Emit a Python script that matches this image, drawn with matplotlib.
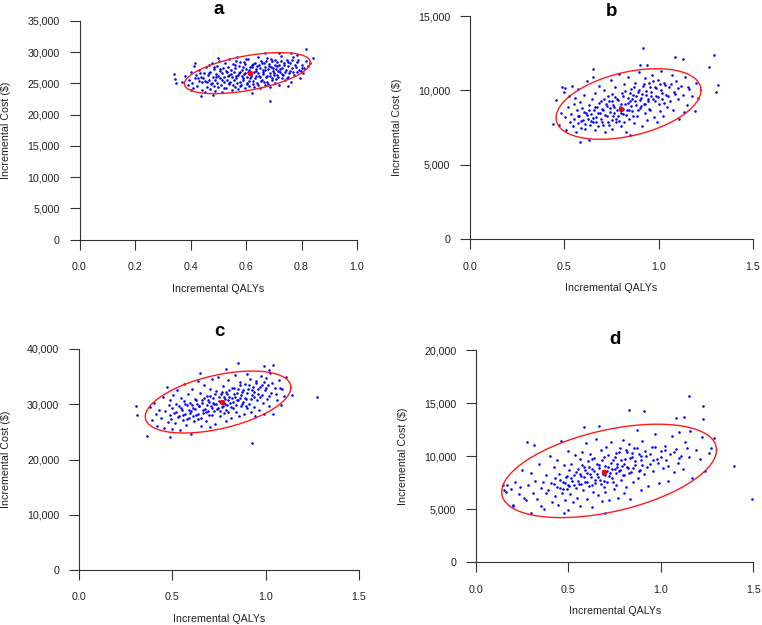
import numpy as np
import matplotlib
matplotlib.use("Agg")
import matplotlib.pyplot as plt
from matplotlib.ticker import FuncFormatter

plt.rcParams['font.family'] = ['Liberation Sans', 'DejaVu Sans']

# ---- data ----
a_pts = [
    (0.340, 26530), (0.344, 25680), (0.347, 25050), (0.401, 23960), (0.439, 23050),
    (0.482, 23140), (0.686, 22250), (0.816, 30590), (0.842, 29140), (0.782, 29570),
    (0.719, 29950), (0.670, 29950), (0.762, 29800), (0.751, 24600), (0.416, 28340),
    (0.498, 29040), (0.600, 28880), (0.800, 27440),
    (0.37, 25200), (0.38, 26200), (0.39, 24700), (0.395, 25500), (0.40, 26800),
    (0.405, 25000), (0.41, 24200), (0.412, 27800), (0.418, 25900), (0.42, 26400),
    (0.425, 24600), (0.43, 25400), (0.432, 27200), (0.438, 26000), (0.44, 24000),
    (0.445, 25800), (0.45, 26600), (0.452, 23600), (0.455, 27600), (0.458, 25200),
    (0.46, 24500), (0.462, 26300), (0.465, 27900), (0.468, 25600), (0.47, 24100),
    (0.472, 26900), (0.476, 25000), (0.478, 28200), (0.48, 26000), (0.483, 24600),
    (0.486, 27300), (0.488, 25500), (0.49, 23800), (0.492, 26500), (0.495, 27800),
    (0.497, 25100), (0.50, 26200), (0.50, 24400), (0.503, 28600), (0.505, 25800),
    (0.507, 27000), (0.51, 24800), (0.512, 26600), (0.515, 23700), (0.517, 27500),
    (0.52, 25300), (0.522, 26100), (0.525, 28300), (0.527, 24300), (0.53, 26900),
    (0.532, 25600), (0.535, 27700), (0.537, 24900), (0.54, 26300), (0.54, 28900),
    (0.543, 25200), (0.545, 27100), (0.548, 23900), (0.55, 26000), (0.552, 28100),
    (0.555, 25500), (0.557, 26800), (0.56, 24500), (0.562, 27400), (0.565, 25900),
    (0.567, 29200), (0.57, 26400), (0.572, 24100), (0.575, 27800), (0.577, 25300),
    (0.58, 26900), (0.58, 28500), (0.583, 24800), (0.585, 26200), (0.588, 27600),
    (0.59, 25600), (0.592, 28400), (0.595, 24200), (0.597, 26700), (0.60, 27300),
    (0.602, 25100), (0.605, 26000), (0.607, 28900), (0.61, 24600), (0.612, 27100),
    (0.615, 25800), (0.617, 26500), (0.62, 28000), (0.62, 23400), (0.623, 27600),
    (0.625, 25400), (0.628, 26900), (0.63, 24500), (0.632, 28300), (0.635, 26200),
    (0.637, 27300), (0.64, 25000), (0.642, 29300), (0.645, 26600), (0.647, 27900),
    (0.65, 24200), (0.652, 26000), (0.655, 28600), (0.657, 25600), (0.66, 27200),
    (0.663, 26500), (0.665, 28200), (0.668, 24800), (0.67, 27700), (0.672, 26000),
    (0.675, 29000), (0.677, 25300), (0.68, 27300), (0.682, 28100), (0.685, 26600),
    (0.687, 24400), (0.69, 27600), (0.692, 25800), (0.695, 28600), (0.697, 27000),
    (0.70, 26300), (0.703, 27900), (0.705, 25100), (0.708, 27300), (0.71, 28500),
    (0.712, 26400), (0.715, 27000), (0.718, 24800), (0.72, 28000), (0.722, 26800),
    (0.725, 29400), (0.728, 25900), (0.73, 27500), (0.735, 26300), (0.738, 28300),
    (0.742, 25500), (0.745, 27200), (0.748, 28800), (0.75, 26000), (0.753, 27800),
    (0.756, 26600), (0.76, 28200), (0.763, 25200), (0.766, 27400), (0.77, 29200),
    (0.773, 26400), (0.777, 27900), (0.782, 26800), (0.785, 28400), (0.79, 27200),
    (0.795, 25900), (0.80, 28000), (0.805, 26600), (0.81, 27500), (0.815, 28600),
    (0.825, 27800), (0.83, 28300),
    (0.452, 25430), (0.468, 26740), (0.474, 24870), (0.491, 25960), (0.506, 27340),
    (0.513, 25570), (0.519, 24210), (0.528, 27060), (0.534, 26130), (0.538, 25010),
    (0.546, 26470), (0.553, 24720), (0.559, 27950), (0.563, 26110), (0.568, 25040),
    (0.574, 26620), (0.579, 24560), (0.586, 27230), (0.589, 25870), (0.594, 26450),
    (0.598, 28110), (0.603, 24930), (0.608, 26780), (0.611, 25380), (0.616, 27690),
    (0.619, 26130), (0.624, 24870), (0.627, 28040), (0.631, 25820), (0.636, 26960),
    (0.639, 27870), (0.643, 24690), (0.646, 26210), (0.651, 27480), (0.654, 25340),
    (0.658, 28270), (0.661, 26840), (0.664, 25160), (0.669, 27120), (0.673, 28560),
    (0.676, 26150), (0.679, 24950), (0.683, 27850), (0.688, 26270), (0.691, 28890),
    (0.694, 25530), (0.698, 27400), (0.701, 26710), (0.706, 28720), (0.709, 25780),
    (0.713, 27760), (0.717, 26060), (0.721, 27270), (0.726, 28550), (0.731, 26590),
    (0.736, 27990), (0.741, 26880), (0.746, 25800), (0.752, 28510), (0.758, 27040),
    (0.764, 28830), (0.771, 26900), (0.779, 27560), (0.788, 28700), (0.798, 26980),
    (0.435, 26680), (0.443, 25150), (0.428, 25900), (0.485, 27600), (0.565, 28600),
]
b_pts = [
    (0.918, 12870), (1.295, 12380), (1.268, 11590), (1.315, 10370), (1.306, 9880),
    (1.084, 12220), (1.127, 12080), (0.90, 11700), (0.94, 11700), (0.654, 11420),
    (0.456, 9350), (0.442, 7740), (0.503, 10140), (0.585, 6545), (0.633, 6640),
    (1.134, 8520), (1.157, 10220),
    (0.47, 7700), (0.48, 8500), (0.49, 10200), (0.50, 9900), (0.505, 8200),
    (0.51, 7300), (0.52, 8900), (0.525, 9600), (0.53, 7900), (0.535, 8400),
    (0.54, 10300), (0.545, 7600), (0.55, 9100), (0.55, 8100), (0.555, 9500),
    (0.56, 7200), (0.565, 8700), (0.57, 7800), (0.575, 10100), (0.58, 8300),
    (0.585, 9200), (0.59, 7500), (0.595, 8800), (0.60, 8000), (0.605, 9700),
    (0.61, 7400), (0.615, 8500), (0.62, 10600), (0.625, 8100), (0.63, 9000),
    (0.635, 7700), (0.64, 8400), (0.645, 9400), (0.65, 7900), (0.65, 10900),
    (0.655, 8700), (0.66, 7300), (0.665, 9800), (0.67, 8200), (0.675, 8900),
    (0.68, 7600), (0.685, 10300), (0.69, 8500), (0.695, 9300), (0.70, 7900),
    (0.705, 8700), (0.71, 10000), (0.715, 7200), (0.72, 9100), (0.725, 8300),
    (0.73, 9600), (0.735, 7700), (0.74, 8800), (0.745, 10700), (0.75, 8000),
    (0.75, 9300), (0.755, 7400), (0.76, 9000), (0.765, 8500), (0.77, 10200),
    (0.775, 7900), (0.78, 9400), (0.785, 8300), (0.79, 11100), (0.795, 8900),
    (0.80, 7600), (0.805, 9800), (0.81, 8400), (0.815, 10400), (0.82, 9100),
    (0.825, 7200), (0.83, 8700), (0.835, 9500), (0.84, 10900), (0.845, 8100),
    (0.85, 9300), (0.85, 7000), (0.855, 10100), (0.86, 8600), (0.865, 9700),
    (0.87, 7800), (0.875, 10500), (0.88, 9000), (0.885, 8300), (0.89, 9900),
    (0.895, 11200), (0.90, 8800), (0.905, 9500), (0.91, 7600), (0.915, 10300),
    (0.92, 9100), (0.925, 8500), (0.93, 10800), (0.935, 9700), (0.94, 8000),
    (0.945, 9300), (0.95, 10500), (0.955, 8700), (0.96, 9900), (0.965, 11000),
    (0.97, 9400), (0.975, 8200), (0.98, 10200), (0.985, 9600), (0.99, 7900),
    (0.995, 10700), (1.0, 9100), (1.005, 8600), (1.01, 10000), (1.015, 11300),
    (1.02, 9400), (1.025, 8300), (1.03, 10500), (1.04, 9700), (1.045, 8900),
    (1.055, 10200), (1.06, 9300), (1.07, 11000), (1.075, 8700), (1.08, 9900),
    (1.09, 10600), (1.10, 9400), (1.11, 8100), (1.12, 10300), (1.13, 9700),
    (1.14, 10900), (1.15, 9000), (1.16, 10100), (1.175, 9600), (1.19, 8600),
    (1.20, 10500), (1.21, 9500),
    (0.57, 8250), (0.588, 7950), (0.603, 8550), (0.612, 7750), (0.622, 8350),
    (0.633, 8650), (0.642, 7950), (0.652, 8150), (0.661, 8900), (0.668, 7850),
    (0.677, 8450), (0.684, 9150), (0.692, 8050), (0.699, 8750), (0.706, 7650),
    (0.712, 9450), (0.718, 8350), (0.726, 8950), (0.731, 7850), (0.738, 9250),
    (0.744, 8550), (0.752, 9750), (0.758, 8250), (0.763, 8850), (0.768, 9550),
    (0.773, 8050), (0.779, 8650), (0.786, 9350), (0.792, 7950), (0.798, 9050),
    (0.803, 8450), (0.809, 9650), (0.813, 8750), (0.818, 7850), (0.824, 9950),
    (0.829, 8350), (0.836, 9150), (0.842, 8650), (0.848, 9850), (0.853, 8950),
    (0.858, 9450), (0.864, 8250), (0.871, 10250), (0.877, 9250), (0.882, 9650),
    (0.888, 8650), (0.894, 10050), (0.901, 9350), (0.908, 8950), (0.914, 9750),
    (0.921, 10450), (0.928, 9050), (0.934, 9950), (0.941, 9450), (0.948, 8750),
    (0.956, 10250), (0.962, 9650), (0.969, 10650), (0.978, 9250), (0.988, 10150),
    (0.997, 9550), (1.008, 10450), (1.018, 9850), (1.028, 9150), (1.036, 10350),
    (1.05, 9650), (1.065, 10450), (1.085, 9750), (1.105, 10150),
]
c_pts = [
    (0.304, 29740), (0.312, 28060), (0.362, 24250), (0.487, 24130), (1.276, 31370),
    (0.925, 23040), (0.853, 37410), (0.79, 36320), (0.99, 36980), (1.04, 37100),
    (1.016, 36200), (1.143, 31640), (0.648, 35740),
    (0.38, 29500), (0.39, 27200), (0.40, 30300), (0.41, 28300), (0.42, 26100),
    (0.43, 29000), (0.44, 27500), (0.45, 31300), (0.455, 25700), (0.46, 28700),
    (0.47, 33200), (0.475, 26800), (0.48, 29900), (0.485, 28000), (0.49, 30800),
    (0.495, 27300), (0.50, 29300), (0.50, 25500), (0.505, 31600), (0.51, 28400),
    (0.515, 26600), (0.52, 30100), (0.525, 32600), (0.53, 27700), (0.535, 29600),
    (0.54, 25300), (0.545, 31100), (0.55, 28900), (0.555, 27100), (0.56, 30500),
    (0.565, 33600), (0.57, 28200), (0.575, 26300), (0.58, 29800), (0.585, 31900),
    (0.59, 27500), (0.595, 30200), (0.60, 24700), (0.60, 28800), (0.605, 32800),
    (0.61, 29400), (0.615, 26900), (0.62, 31000), (0.625, 28100), (0.63, 30100),
    (0.635, 34200), (0.64, 27400), (0.645, 29700), (0.65, 32100), (0.655, 26100),
    (0.66, 30800), (0.665, 28500), (0.67, 33400), (0.675, 29200), (0.68, 27000),
    (0.685, 31500), (0.69, 28800), (0.695, 30400), (0.70, 25900), (0.70, 32700),
    (0.705, 29700), (0.71, 34600), (0.715, 28100), (0.72, 31200), (0.725, 30000),
    (0.73, 26500), (0.735, 32400), (0.74, 29100), (0.745, 35000), (0.75, 30600),
    (0.755, 27800), (0.76, 31800), (0.765, 29500), (0.77, 33300), (0.775, 28400),
    (0.78, 30900), (0.785, 26900), (0.79, 32200), (0.795, 29800), (0.80, 34400),
    (0.80, 28600), (0.805, 31400), (0.81, 30200), (0.815, 27500), (0.82, 33000),
    (0.825, 29400), (0.83, 31900), (0.835, 35300), (0.84, 28600), (0.845, 30800),
    (0.85, 32800), (0.855, 27900), (0.86, 31200), (0.865, 34000), (0.87, 29700),
    (0.875, 32300), (0.88, 30400), (0.885, 28200), (0.89, 33600), (0.895, 31000),
    (0.90, 35500), (0.90, 29300), (0.905, 32700), (0.91, 30100), (0.915, 34500),
    (0.92, 28600), (0.925, 31600), (0.93, 33100), (0.935, 29500), (0.94, 32200),
    (0.945, 27800), (0.95, 34200), (0.955, 30700), (0.96, 32800), (0.965, 29000),
    (0.97, 31400), (0.975, 35200), (0.98, 33500), (0.985, 30300), (0.99, 28300),
    (0.995, 32500), (1.0, 34800), (1.005, 31000), (1.01, 33400), (1.02, 29600),
    (1.025, 35600), (1.03, 32000), (1.04, 28300), (1.05, 33000), (1.06, 30800),
    (1.07, 34400), (1.08, 29800), (1.09, 32800), (1.10, 31500), (1.11, 34900),
    (0.52, 28600), (0.538, 27900), (0.547, 29400), (0.558, 28100), (0.567, 30100),
    (0.578, 27300), (0.587, 29000), (0.596, 28400), (0.604, 29900), (0.613, 27800),
    (0.621, 29200), (0.628, 30700), (0.637, 28300), (0.643, 29600), (0.652, 27600),
    (0.658, 30300), (0.664, 29000), (0.672, 31200), (0.678, 28600), (0.684, 29900),
    (0.691, 30800), (0.698, 28100), (0.704, 31500), (0.711, 29400), (0.717, 30300),
    (0.723, 28800), (0.729, 31900), (0.736, 30000), (0.742, 29300), (0.748, 31400),
    (0.753, 28700), (0.759, 30400), (0.764, 32300), (0.771, 29700), (0.777, 31300),
    (0.782, 30100), (0.788, 28900), (0.793, 31800), (0.799, 30800), (0.806, 32600),
    (0.812, 29500), (0.818, 31100), (0.823, 30400), (0.829, 32900), (0.836, 31300),
    (0.842, 29800), (0.848, 32100), (0.853, 30700), (0.861, 33400), (0.868, 31600),
    (0.874, 30000), (0.881, 32500), (0.887, 31200), (0.894, 29600), (0.902, 32000),
    (0.911, 33500), (0.919, 30900), (0.928, 32600), (0.937, 31300), (0.946, 33800),
    (0.957, 31900), (0.968, 33100), (0.979, 31700), (0.99, 34100), (1.004, 32900),
    (1.018, 31500), (1.035, 33800), (1.055, 31900), (1.075, 32900),
]
d_pts = [
    (1.493, 6000), (1.397, 9080), (1.154, 15620), (1.228, 14680), (0.829, 14350),
    (0.907, 14290), (1.082, 13560), (1.127, 13650), (1.226, 13490), (0.586, 12780),
    (0.667, 12830), (0.274, 11370), (0.315, 11050), (0.144, 7290), (0.153, 6810),
    (0.198, 5400), (0.30, 4620), (0.475, 4620), (0.697, 4620),
    (0.16, 6600), (0.17, 7300), (0.19, 6900), (0.20, 5300), (0.21, 7600),
    (0.23, 6400), (0.24, 7100), (0.25, 8700), (0.26, 6100), (0.27, 5900),
    (0.28, 7300), (0.30, 8400), (0.31, 6500), (0.32, 7700), (0.33, 6000),
    (0.34, 9300), (0.35, 5300), (0.36, 7600), (0.37, 5000), (0.38, 8200),
    (0.39, 6800), (0.40, 10000), (0.405, 7500), (0.41, 5700), (0.42, 9000),
    (0.425, 6200), (0.43, 7900), (0.44, 9600), (0.445, 5400), (0.45, 8300),
    (0.455, 7000), (0.46, 11400), (0.465, 6500), (0.47, 7600), (0.475, 9200),
    (0.48, 5900), (0.485, 8000), (0.49, 6900), (0.495, 10500), (0.50, 7300),
    (0.50, 4900), (0.505, 8700), (0.51, 6400), (0.515, 9300), (0.52, 7700),
    (0.525, 5700), (0.53, 8200), (0.535, 10100), (0.54, 7000), (0.545, 6100),
    (0.55, 8800), (0.555, 7400), (0.56, 9700), (0.565, 5300), (0.57, 8100),
    (0.575, 10400), (0.58, 6800), (0.585, 9000), (0.59, 7600), (0.595, 11200),
    (0.60, 8400), (0.60, 6000), (0.605, 9500), (0.61, 7200), (0.615, 10200),
    (0.62, 8000), (0.625, 5200), (0.63, 8800), (0.635, 6600), (0.64, 9800),
    (0.645, 7500), (0.65, 11600), (0.655, 8300), (0.66, 6300), (0.665, 9200),
    (0.67, 7800), (0.675, 10600), (0.68, 5800), (0.685, 8600), (0.69, 7100),
    (0.695, 9900), (0.70, 8200), (0.70, 6600), (0.705, 10900), (0.71, 7600),
    (0.715, 9000), (0.72, 5900), (0.725, 8400), (0.73, 11300), (0.735, 7900),
    (0.74, 9600), (0.745, 6900), (0.75, 8800), (0.755, 10300), (0.76, 7300),
    (0.765, 9300), (0.77, 6100), (0.775, 8600), (0.78, 10800), (0.785, 7800),
    (0.79, 9100), (0.795, 11500), (0.80, 8200), (0.80, 6500), (0.805, 9700),
    (0.81, 7100), (0.815, 10400), (0.82, 8900), (0.83, 11100), (0.835, 6000),
    (0.84, 8500), (0.845, 9900), (0.85, 7600), (0.855, 10800), (0.86, 9200),
    (0.87, 12500), (0.875, 7900), (0.88, 10200), (0.885, 8700), (0.89, 6800),
    (0.895, 9600), (0.90, 11400), (0.91, 8300), (0.92, 10000), (0.93, 7200),
    (0.94, 9300), (0.95, 10900), (0.96, 8600), (0.97, 12100), (0.98, 9700),
    (0.99, 7500), (1.0, 10500), (1.01, 8900), (1.02, 11000), (1.03, 9600),
    (1.04, 7700), (1.05, 10200), (1.06, 11900), (1.07, 8500), (1.08, 10700),
    (1.09, 9400), (1.10, 12300), (1.11, 10000), (1.12, 8800), (1.13, 11300),
    (1.15, 9900), (1.16, 12400), (1.17, 7900), (1.19, 10600), (1.21, 9700),
    (1.22, 11800), (1.24, 8600), (1.26, 10300), (1.27, 10800), (1.29, 11700),
    (0.42, 7400), (0.44, 7100), (0.455, 7800), (0.47, 6900), (0.48, 7500),
    (0.49, 8100), (0.505, 7200), (0.515, 7900), (0.53, 7300), (0.54, 8500),
    (0.55, 7700), (0.56, 8300), (0.57, 7400), (0.575, 9200), (0.585, 8000),
    (0.59, 8700), (0.60, 7600), (0.61, 9000), (0.615, 8300), (0.625, 7300),
    (0.63, 9700), (0.64, 8600), (0.645, 7800), (0.655, 9300), (0.66, 8000),
    (0.668, 8900), (0.675, 7400), (0.68, 9600), (0.688, 8300), (0.695, 7700),
    (0.70, 9100), (0.708, 8600), (0.714, 10100), (0.72, 8100), (0.728, 9400),
    (0.735, 8800), (0.742, 7600), (0.75, 9900), (0.757, 8400), (0.764, 9000),
    (0.772, 10400), (0.78, 8700), (0.787, 9600), (0.794, 8200), (0.80, 9300),
    (0.81, 10600), (0.818, 9000), (0.826, 8400), (0.834, 9800), (0.842, 10300),
    (0.85, 8900), (0.86, 9500), (0.87, 10800), (0.88, 8600), (0.89, 10000),
    (0.90, 9200), (0.915, 10500), (0.925, 9000), (0.94, 10200), (0.955, 9600),
    (0.97, 10900), (0.985, 9400), (1.0, 9900), (1.02, 10600), (1.04, 9100),
    (1.07, 10400), (1.10, 9800), (1.14, 10800), (0.38, 6500), (0.35, 7000),
]

# mean point of each cloud
means = {'a': (0.614, 26640), 'b': (0.800, 8744), 'c': (0.768, 30350), 'd': (0.690, 8545)}
# ellipse: centre x, centre y, half-width x, half-height y, correlation
ellipses = {
    'a': (0.605, 26650, 0.227, 3290, 0.52),
    'b': (0.840, 9080, 0.384, 2375, 0.39),
    'c': (0.745, 30400, 0.390, 5610, 0.47),
    'd': (0.720, 8610, 0.581, 4400, 0.45),
}
x_ticks = {'a': [0.0, 0.2, 0.4, 0.6, 0.8, 1.0], 'b': [0.0, 0.5, 1.0, 1.5],
           'c': [0.0, 0.5, 1.0, 1.5], 'd': [0.0, 0.5, 1.0, 1.5]}
y_ticks = {'a': [0, 5000, 10000, 15000, 20000, 25000, 30000, 35000],
           'b': [0, 5000, 10000, 15000],
           'c': [0, 10000, 20000, 30000, 40000],
           'd': [0, 5000, 10000, 15000, 20000]}
points = {'a': a_pts, 'b': b_pts, 'c': c_pts, 'd': d_pts}

# pixel layout: left(x=0), right(x=max), y=0 row, y=max row
W, H = 762, 625
layout = {
    'a': (79.5, 357.0, 239.5, 21.0),
    'b': (470.0, 753.0, 239.0, 16.0),
    'c': (79.0, 359.0, 570.0, 349.0),
    'd': (476.0, 753.3, 562.3, 350.0),
}
title_base = {'a': 14, 'b': 16.5, 'c': 336, 'd': 344}

fig = plt.figure(figsize=(W / 100, H / 100), dpi=100)
axcol = '#333333'
fs = 7.7

for key in ['a', 'b', 'c', 'd']:
    l, r, y0, yt = layout[key]
    xmax = x_ticks[key][-1]
    ymax = y_ticks[key][-1]
    ax = fig.add_axes([l / W, 1 - y0 / H, (r - l) / W, (y0 - yt) / H])
    ax.set_xlim(0, xmax)
    ax.set_ylim(0, ymax)
    ax.patch.set_visible(False)

    pts = np.array(points[key])
    ax.scatter(pts[:, 0], pts[:, 1], s=3.4, color='#0000ff', linewidths=0, clip_on=False)

    cx, cy, sx, sy, rho = ellipses[key]
    t = np.linspace(0, 2 * np.pi, 300)
    ex = cx + sx * np.cos(t)
    ey = cy + sy * (rho * np.cos(t) + np.sqrt(1 - rho ** 2) * np.sin(t))
    ax.plot(ex, ey, color='#ff1a1a', lw=1.0, clip_on=False)

    mx, my = means[key]
    ax.plot([mx], [my], 'o', color='#ff0000', ms=4, mec='none', clip_on=False)

    for s in ['top', 'right']:
        ax.spines[s].set_visible(False)
    for s in ['left', 'bottom']:
        ax.spines[s].set_color(axcol)
        ax.spines[s].set_linewidth(0.8)
    ax.spines['left'].set_bounds(0, ymax)
    ax.spines['bottom'].set_bounds(0, xmax)

    ax.set_xticks(x_ticks[key])
    ax.set_yticks(y_ticks[key])
    ax.xaxis.set_major_formatter(FuncFormatter(lambda v, p: '%.1f' % v))
    ax.yaxis.set_major_formatter(FuncFormatter(lambda v, p: '{:,.0f}'.format(v)))
    ax.tick_params(axis='both', direction='out', length=7.2, width=0.8, color=axcol,
                   labelsize=fs, labelcolor='#222222')
    ax.tick_params(axis='x', pad=9)
    ax.tick_params(axis='y', pad=7)

    fig.text((l + r) / 2 / W, 1 - (y0 + 49) / H, 'Incremental QALYs',
             ha='center', va='center', fontsize=fs, color='#222222')
    fig.text((l - 73) / W, 1 - ((y0 + yt) / 2) / H, 'Incremental Cost ($)',
             ha='center', va='center', rotation=90, fontsize=fs, color='#222222')
    fig.text((l + r) / 2 / W, 1 - title_base[key] / H, key,
             ha='center', va='baseline', fontsize=13.5, fontweight='bold', color='black')

fig.savefig('out.png', dpi=100)
